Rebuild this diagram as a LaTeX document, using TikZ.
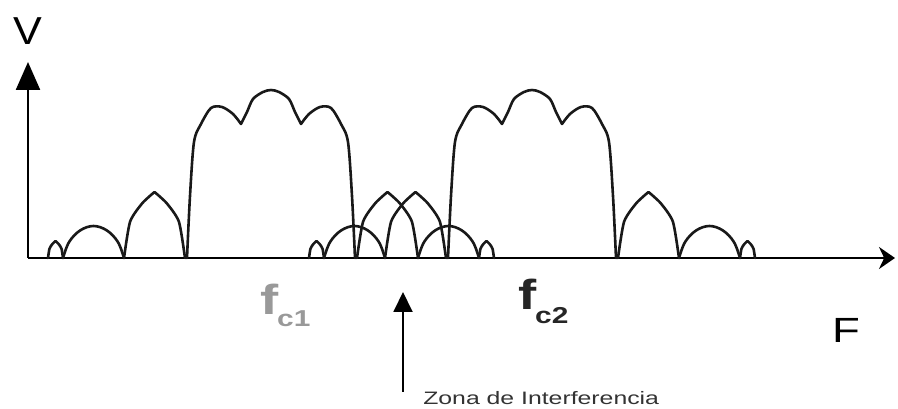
\documentclass[tikz,border=0pt]{standalone}
\usepackage{fontspec}
\setmainfont{Liberation Sans}
\usetikzlibrary{arrows.meta}

% rounded side lobe: from #1 to #2, height #3
\newcommand{\lobulo}[3]{plot[smooth,tension=.6] coordinates {({#1},0) ({#1+0.1*(#2-(#1))},{0.5*#3}) ({#1+0.28*(#2-(#1))},{0.86*#3}) ({(#1+#2)/2},{#3}) ({#2-0.28*(#2-(#1))},{0.86*#3}) ({#2-0.1*(#2-(#1))},{0.5*#3}) ({#2},0)}}
% pointed side lobe: same arguments
\newcommand{\pico}[3]{plot[smooth,tension=.4] coordinates {({#1},0) ({#1+0.1*(#2-(#1))},{0.55*#3}) ({#1+0.3*(#2-(#1))},{0.83*#3}) ({(#1+#2)/2},{#3})}
  plot[smooth,tension=.4] coordinates {({(#1+#2)/2},{#3}) ({#2-0.3*(#2-(#1))},{0.83*#3}) ({#2-0.1*(#2-(#1))},{0.55*#3}) ({#2},0)}}

\begin{document}
\begin{tikzpicture}[x=1pt,y=1pt,
    eje/.style={line width=2.4pt},
    curva/.style={line width=2.6pt,line join=round,line cap=round,black!90},
    rotulo/.style={inner sep=0pt,xscale=1.3}]
    \useasboundingbox (-28,-151) rectangle (870,258);

    % Axes
    \coordinate (O) at (0,0);
    \coordinate (ytip) at (0,196);
    \coordinate (xtip) at (867,0);
    \draw[eje,-{Triangle[length=28pt,width=24pt]}] (O) -- (ytip);
    \draw[eje,-{Stealth[length=16pt,width=22pt]}] (O) -- (xtip);
    \node[rotulo,xscale=0.85] (V) at (0,227) {\fontsize{39}{40}\selectfont V};
    \node[rotulo] (F) at (818,-72) {\fontsize{35}{36}\selectfont F};

    % Spectra of the two carriers
    \foreach \c in {243,504}{
      \begin{scope}[shift={(\c,0)}]
        \draw[curva] plot[smooth,tension=.5] coordinates {(-84,0) (-81,62) (-77,116) (-70,134) (-60,150) (-49,151) (-38,144) (-30,134)}
          plot[smooth,tension=.5] coordinates {(-30,134) (-24,146) (-18,159) (-8,166) (0,168) (8,166) (18,159) (24,146) (30,134)}
          plot[smooth,tension=.5] coordinates {(30,134) (38,144) (49,151) (60,150) (70,134) (77,116) (81,62) (84,0)};
        \foreach \s in {-1,1}{
          \draw[curva] \pico{\s*86}{\s*147}{66};
          \draw[curva] \lobulo{\s*147}{\s*208}{32};
          \draw[curva] \pico{\s*208}{\s*223}{17};
        }
      \end{scope}
    }

    % Carrier labels
    \node[rotulo,anchor=base west,text=black!40] (fc1) at (232,-57)
      {\fontsize{42}{42}\selectfont\bfseries f\kern-1pt\raisebox{-12pt}{\fontsize{23}{23}\selectfont c1}};
    \node[rotulo,anchor=base west,text=black!85] (fc2) at (490,-52)
      {\fontsize{42}{42}\selectfont\bfseries f\kern-1pt\raisebox{-14pt}{\fontsize{23}{23}\selectfont c2}};

    % Interference zone
    \coordinate (zcola) at (375,-134);
    \coordinate (zpunta) at (375,-34);
    \draw[line width=1.9pt,-{Triangle[length=20pt,width=19pt]}] (zcola) -- (zpunta);
    \node[rotulo,anchor=base west,xscale=1.06,text=black!80] (zona) at (395,-147)
      {\fontsize{18}{18}\selectfont Zona de Interferencia};
\end{tikzpicture}
\end{document}
